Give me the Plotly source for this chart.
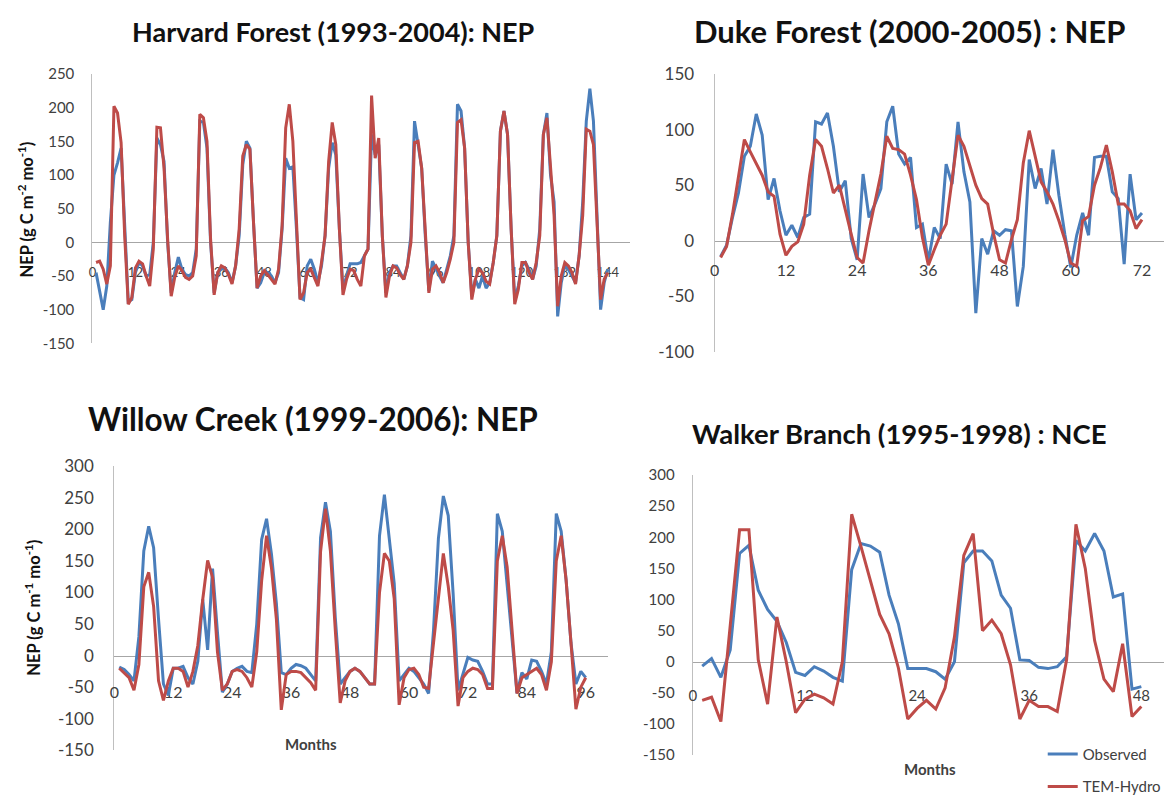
import plotly.graph_objects as go

# ---------------- DATA ----------------
harv_months = list(range(1, 145))
harv_obs = [
    -45, -75, -100, -65, 30, 100, 118, 140, 15, -88, -85, -45,
    -30, -35, -50, -48, 0, 155, 145, 120, 0, -75, -45, -22,
    -40, -48, -50, -45, -10, 180, 178, 140, 0, -75, -45, -40,
    -38, -45, -60, -35, 10, 115, 150, 140, 30, -68, -60, -45,
    -45, -50, -60, -45, 20, 125, 110, 112, 20, -82, -85, -35,
    -25, -40, -60, -35, 10, 110, 148, 130, 20, -70, -50, -32,
    -32, -32, -30, -20, -10, 160, 130, 145, 10, -75, -45, -35,
    -35, -45, -55, -35, 10, 180, 145, 110, 10, -72, -28, -40,
    -50, -60, -40, -20, 10, 205, 195, 140, 0, -80, -55, -68,
    -50, -68, -60, -30, 10, 165, 195, 160, 20, -85, -65, -35,
    -30, -40, -55, -35, 20, 160, 192, 100, 60, -110, -60, -35,
    -40, -50, -60, -20, 60, 180, 228, 180, 30, -100, -60, -40,
]
harv_tem = [
    -30, -28, -40, -62, -35, 202, 192, 148, 10, -92, -82, -38,
    -28, -32, -50, -65, -10, 171, 170, 110, 5, -80, -52, -35,
    -42, -52, -55, -50, -20, 190, 185, 150, 5, -78, -45, -35,
    -38, -48, -62, -35, 20, 128, 145, 138, 30, -68, -50, -42,
    -48, -55, -62, -40, 25, 170, 205, 150, 20, -85, -75, -45,
    -40, -52, -65, -30, 10, 120, 178, 145, 20, -78, -55, -40,
    -42, -55, -65, -20, -10, 218, 125, 155, 10, -82, -50, -35,
    -38, -48, -55, -35, 0, 148, 150, 110, 10, -75, -40, -35,
    -45, -60, -45, -25, 0, 178, 182, 140, 0, -85, -55, -40,
    -45, -58, -62, -30, 10, 165, 195, 160, 20, -92, -70, -30,
    -30, -45, -55, -30, 10, 160, 185, 110, 40, -95, -50, -30,
    -35, -45, -62, -20, 40, 168, 165, 145, 40, -85, -55, -45,
]
harv_xticks = [0, 12, 24, 36, 48, 60, 72, 84, 96, 108, 120, 132, 144]
harv_yticks = [-150, -100, -50, 0, 50, 100, 150, 200, 250]

duke_months = list(range(1, 73))
duke_obs = [
    -14, -4, 21, 43, 76, 85, 114, 95, 37, 56, 27, 5,
    14, 3, 21, 24, 107, 105, 115, 85, 44, 54, 2, -17,
    60, 21, 33, 47, 107, 121, 78, 69, 75, 12, 15, -18,
    12, 2, 69, 51, 107, 62, 35, -65, 2, -12, 9, 5,
    10, 9, -59, -23, 73, 47, 65, 33, 82, 41, 6, -24,
    5, 25, 5, 75, 76, 76, 44, 38, -21, 60, 19, 25,
]
duke_tem = [
    -15, -5, 24, 59, 91, 80, 70, 59, 44, 40, 6, -13,
    -5, -1, 15, 59, 91, 85, 65, 43, 50, 27, 6, -15,
    -20, 9, 33, 60, 94, 83, 82, 78, 59, 37, 3, -22,
    -8, 5, 15, 53, 95, 85, 67, 50, 38, 33, 6, -17,
    -20, 1, 19, 70, 99, 76, 53, 44, 33, 18, 1, -20,
    -23, 18, 22, 50, 66, 86, 62, 33, 33, 27, 11, 19,
]
duke_xticks = [0, 12, 24, 36, 48, 60, 72]
duke_yticks = [-100, -50, 0, 50, 100, 150]

willow_months = list(range(1, 97))
willow_obs = [
    -18, -22, -30, -40, 30, 166, 205, 171, 58, -45, -63, -20,
    -20, -17, -35, -45, -9, 89, 9, 138, 37, -58, -45, -25,
    -20, -17, -25, -27, 50, 184, 217, 161, 83, -27, -30, -20,
    -14, -16, -20, -30, -40, 187, 243, 197, 60, -45, -35, -25,
    -20, -25, -35, -45, -45, 190, 255, 186, 114, -40, -30, -20,
    -25, -35, -45, -60, 40, 186, 253, 222, 98, -55, -30, -3,
    -7, -9, -25, -45, -45, 225, 197, 110, 20, -60, -27, -37,
    -7, -9, -25, -45, 6, 225, 197, 120, 20, -45, -25, -35,
]
willow_tem = [
    -20, -27, -35, -55, -14, 109, 132, 78, -40, -71, -40, -20,
    -20, -25, -50, -25, 16, 89, 151, 124, 6, -55, -45, -25,
    -22, -25, -35, -50, 6, 119, 190, 139, 58, -86, -30, -25,
    -25, -27, -35, -43, -55, 165, 233, 166, 40, -75, -40, -25,
    -20, -25, -35, -45, -45, 100, 162, 150, 90, -78, -35, -22,
    -20, -30, -50, -52, 20, 90, 162, 110, 40, -80, -35, -25,
    -20, -22, -30, -52, -52, 150, 190, 140, 40, -60, -35, -30,
    -25, -20, -30, -55, -10, 150, 190, 120, 20, -85, -50, -35,
]
willow_xticks = [0, 12, 24, 36, 48, 60, 72, 84, 96]
willow_yticks = [-150, -100, -50, 0, 50, 100, 150, 200, 250, 300]

walker_months = list(range(1, 49))
walker_obs = [
    -7, 5, -25, 19, 174, 187, 115, 84, 65, 31, -17, -22,
    -8, -15, -25, -31, 148, 190, 186, 176, 107, 61, -11, -11,
    -11, -16, -28, 0, 159, 178, 178, 162, 107, 86, 3, 2,
    -9, -11, -8, 8, 195, 178, 206, 178, 104, 109, -44, -40,
]
walker_tem = [
    -62, -57, -96, 60, 212, 212, 3, -68, 72, 0, -82, -60,
    -52, -58, -68, 0, 237, 185, 130, 76, 45, -10, -92, -75,
    -62, -76, -42, 40, 171, 206, 50, 67, 45, -5, -92, -62,
    -72, -72, -80, 3, 221, 150, 34, -28, -48, 29, -88, -72,
]
walker_xticks = [0, 12, 24, 36, 48]
walker_yticks = [-150, -100, -50, 0, 50, 100, 150, 200, 250, 300]

series_names = ["Observed", "TEM-Hydro"]
titles = ["Harvard Forest (1993-2004): NEP", "Duke Forest (2000-2005) : NEP",
          "Willow Creek (1999-2006): NEP", "Walker Branch (1995-1998) : NCE"]

# ---------------- LAYOUT HELPERS ----------------
W, H = 1166, 803
def fx(px):
    return px / W
def fy(py):
    return 1 - py / H

BLUE = "#4a7ebb"
RED = "#be4b48"
FONT = "Lato"
AXC = "#bfbfbf"
TXT = "#404040"
LW = 3

panels = [
    dict(months=harv_months, obs=harv_obs, tem=harv_tem, xt=harv_xticks, yt=harv_yticks,
         x0=88, x1=629, pm=3.6, y0=65, y1=343, yr=(-150, 250), xfs=13, yfs=15, xso=18, yso=14),
    dict(months=duke_months, obs=duke_obs, tem=duke_tem, xt=duke_xticks, yt=duke_yticks,
         x0=714, x1=1166, pm=5.97, y0=65, y1=352, yr=(-100, 150), xfs=16, yfs=17, xso=15, yso=16),
    dict(months=willow_months, obs=willow_obs, tem=willow_tem, xt=willow_xticks, yt=willow_yticks,
         x0=110, x1=607, pm=4.94, y0=470, y1=763, yr=(-150, 300), xfs=16, yfs=17, xso=22, yso=16),
    dict(months=walker_months, obs=walker_obs, tem=walker_tem, xt=walker_xticks, yt=walker_yticks,
         x0=692, x1=1166, pm=9.4, y0=479, y1=768, yr=(-150, 300), xfs=15, yfs=15, xso=20, yso=14),
]

fig = go.Figure()
layout = {}
for i, p in enumerate(panels, start=1):
    xa = "x" if i == 1 else f"x{i}"
    ya = "y" if i == 1 else f"y{i}"
    last = (i == 4)
    fig.add_trace(go.Scatter(x=p["months"], y=p["obs"], mode="lines", name=series_names[0],
                             line=dict(color=BLUE, width=LW), xaxis=xa, yaxis=ya,
                             showlegend=last, legendgroup="obs"))
    fig.add_trace(go.Scatter(x=p["months"], y=p["tem"], mode="lines", name=series_names[1],
                             line=dict(color=RED, width=LW), xaxis=xa, yaxis=ya,
                             showlegend=last, legendgroup="tem"))
    ymin, ymax = p["yr"]
    zero_px = p["y0"] + (ymax - 0) / (ymax - ymin) * (p["y1"] - p["y0"])
    xmax = (p["x1"] - p["x0"]) / p["pm"]
    layout["xaxis" if i == 1 else f"xaxis{i}"] = dict(
        domain=[fx(p["x0"]), fx(p["x1"])], range=[0, xmax], anchor="free",
        position=fy(zero_px), showline=True, linecolor="#a6a6a6", linewidth=1.3,
        ticks="", tickvals=p["xt"], ticktext=[str(v) for v in p["xt"]],
        tickfont=dict(family=FONT, size=p["xfs"], color=TXT), ticklabelstandoff=p["xso"],
        showgrid=False, zeroline=False, layer="below traces", fixedrange=True)
    layout["yaxis" if i == 1 else f"yaxis{i}"] = dict(
        domain=[fy(p["y1"]), fy(p["y0"])], range=[ymin, ymax], anchor=xa,
        showline=True, linecolor=AXC, linewidth=1.3, ticks="",
        tickvals=p["yt"], ticktext=[str(v) for v in p["yt"]],
        tickfont=dict(family=FONT, size=p["yfs"], color=TXT), ticklabelstandoff=p["yso"],
        showgrid=False, zeroline=False, layer="below traces", fixedrange=True)

annotations = [
    dict(text=f"<b>{titles[0]}</b>", x=fx(330), y=fy(21), font=dict(size=27)),
    dict(text=f"<b>{titles[1]}</b>", x=fx(910), y=fy(21), font=dict(size=31)),
    dict(text=f"<b>{titles[2]}</b>", x=fx(310), y=fy(421), font=dict(size=31.5)),
    dict(text=f"<b>{titles[3]}</b>", x=fx(899), y=fy(436), font=dict(size=27.5)),
    dict(text="<b>NEP (g C m<sup>-2</sup> mo<sup>-1</sup>)</b>", x=fx(21), y=fy(205),
         textangle=-90, font=dict(size=16.5)),
    dict(text="<b>NEP (g C m<sup>-1</sup> mo<sup>-1</sup>)</b>", x=fx(28), y=fy(616),
         textangle=-90, font=dict(size=16.5)),
    dict(text="<b>Months</b>", x=fx(308), y=fy(757), font=dict(size=15, color=TXT)),
    dict(text="<b>Months</b>", x=fx(931), y=fy(782), font=dict(size=15, color=TXT)),
]
for a in annotations:
    a.setdefault("font", {})
    a["font"].setdefault("color", "#111111")
    a["font"]["family"] = FONT
    a.update(xref="paper", yref="paper", showarrow=False, xanchor="center", yanchor="middle")

fig.update_layout(
    width=W, height=H, margin=dict(l=0, r=0, t=0, b=0),
    paper_bgcolor="white", plot_bgcolor="white",
    annotations=annotations,
    legend=dict(x=fx(1044), y=fy(750), xanchor="left", yanchor="top",
                font=dict(family=FONT, size=15, color=TXT), bgcolor="rgba(0,0,0,0)",
                tracegroupgap=10, itemwidth=30),
    **layout,
)
fig.write_html("out.html")
